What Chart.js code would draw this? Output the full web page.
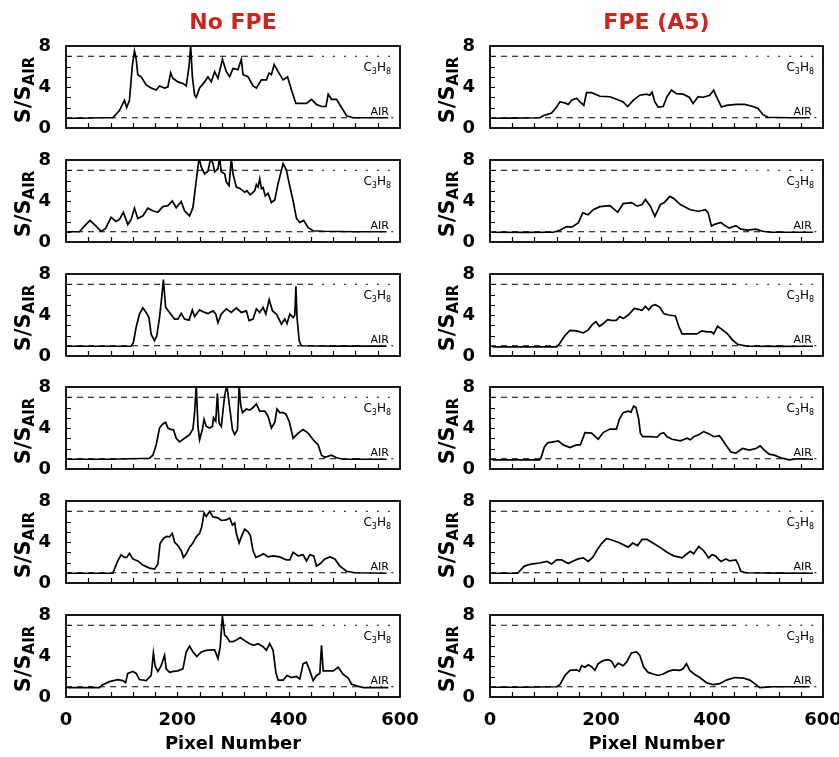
<!DOCTYPE html>
<html><head><meta charset="utf-8">
<script src="https://cdn.jsdelivr.net/npm/chart.js@4.4.1/dist/chart.umd.min.js"></script>
<style>
html,body{margin:0;padding:0;background:#fff;width:839px;height:757px;overflow:hidden;}
canvas{position:absolute;}
</style></head><body>
<script>
// ---- Column titles / labels ----
const columnTitles = ['No FPE', 'FPE (A5)'];
const xAxisTitle = 'Pixel Number';
const xTickLabels = [0, 200, 400, 600];
const yTickLabels = [0, 4, 8];
const C3H8_LEVEL = 7;
const AIR_LEVEL = 1;

// ---- No FPE (left column), rows 1..6 ----
const noFpe1X = [5,30,60,84,96,105,109,114,119,123,126,129,135,144,153,162,168,177,183,188,192,201,210,216,221,224,227,231,234,240,249,255,261,267,273,281,288,294,300,309,315,318,327,336,342,351,360,365,369,374,381,390,398,405,413,423,432,441,450,459,467,471,477,486,495,504,516,540,579];
const noFpe1Y = [0.95,0.95,1.0,1.0,1.7,2.7,2.0,2.7,6.0,7.5,6.8,5.2,5.0,4.2,3.9,3.7,4.1,3.9,4.0,5.4,4.85,4.5,4.35,4.1,6.0,8.0,5.0,3.2,3.0,3.9,4.5,5.0,4.5,5.5,4.85,6.7,5.5,5.0,5.8,5.7,6.7,5.2,5.0,4.1,3.9,4.7,4.7,5.35,5.2,6.2,5.5,4.7,5.0,3.7,2.4,2.4,2.4,2.8,2.3,2.1,2.1,3.3,2.8,2.8,2.0,1.2,1.0,1.0,1.0];

const noFpe2X = [3,24,33,43,54,63,71,81,90,96,103,111,117,123,129,138,147,156,165,174,183,191,198,207,213,222,228,234,239,243,249,255,260,264,267,273,276,279,285,288,293,297,300,306,313,321,325,331,339,342,345,348,351,354,358,363,369,375,381,390,396,401,408,414,420,427,435,444,462,520,576];
const noFpe2Y = [1.0,1.0,1.55,2.1,1.55,1.05,1.3,2.4,2.0,2.2,2.9,1.7,2.2,3.3,2.3,2.55,3.3,3.05,2.9,3.45,3.55,4.0,3.35,3.95,3.05,2.55,3.35,6.0,8.2,7.3,6.65,6.9,8.2,7.65,6.85,7.15,8.2,6.85,6.65,5.85,5.5,8.2,6.65,5.35,5.2,4.85,5.0,4.6,5.0,5.6,5.35,6.15,5.2,5.3,4.5,4.75,3.85,4.1,5.7,7.65,7.0,5.7,4.0,2.3,1.9,2.1,1.4,1.1,1.05,1.0,1.0];

const noFpe3X = [3,60,117,121,126,132,138,144,149,153,159,163,168,172,175,179,186,195,201,207,213,221,227,231,240,249,255,264,269,273,279,288,297,306,315,324,329,336,342,348,354,359,365,371,378,387,393,397,402,408,411,413,415,419,423,480,576];
const noFpe3Y = [0.95,0.95,0.95,1.3,2.8,4.1,4.7,4.25,3.75,2.1,1.5,1.95,3.75,5.75,7.45,4.75,4.25,3.6,3.6,4.15,3.6,3.5,4.5,3.85,4.5,4.25,4.15,4.4,4.1,3.25,4.1,4.6,4.25,4.7,4.25,4.4,3.45,3.6,4.6,4.25,4.75,4.1,5.5,4.4,4.1,3.1,3.6,3.15,4.1,3.75,4.0,6.8,3.75,1.45,1.0,0.97,0.97];

const noFpe4X = [3,80,150,156,162,168,173,179,183,189,193,198,204,213,222,228,231,234,237,240,245,248,252,258,263,265,269,272,275,279,285,289,294,299,303,308,311,314,317,324,330,336,342,348,357,363,369,375,379,384,390,395,401,408,417,426,435,444,453,459,465,477,486,498,576];
const noFpe4Y = [0.95,0.95,1.05,1.35,2.35,4.0,4.35,4.55,4.0,3.85,3.85,3.0,2.65,3.0,3.35,3.9,5.5,8.2,4.15,2.85,3.85,4.85,4.15,4.0,4.15,5.0,4.65,7.35,4.5,4.15,7.15,8.2,6.0,3.85,3.35,3.85,8.2,6.15,5.5,5.85,5.75,6.0,6.35,5.65,5.65,5.15,4.0,4.55,5.85,5.5,5.5,5.35,4.65,3.0,3.5,3.85,3.5,2.85,2.35,1.35,1.15,1.35,1.1,0.95,0.95];

const noFpe5X = [3,45,84,87,93,99,105,109,114,120,129,138,150,159,165,169,175,181,186,191,195,201,207,211,216,222,228,234,240,244,248,252,258,264,273,279,288,294,299,303,306,311,315,321,327,331,336,341,348,355,363,372,384,396,402,408,417,426,432,438,445,450,457,465,474,483,492,504,519,576];
const noFpe5Y = [0.95,0.95,0.95,1.35,2.15,2.75,2.5,2.5,2.9,2.35,2.15,1.75,1.45,1.35,1.85,3.85,4.35,4.55,4.5,4.85,4.0,3.65,3.15,2.5,2.85,3.5,3.9,4.5,4.85,5.5,6.85,6.5,7.0,6.45,6.35,6.1,6.15,6.35,5.65,5.85,4.85,3.9,4.5,5.25,5.0,4.65,3.15,2.5,2.65,2.85,2.55,2.65,2.55,2.25,2.25,3.0,2.65,2.75,2.15,2.75,2.65,1.65,1.9,2.35,2.55,2.35,1.65,1.15,1.0,0.95];

const noFpe6X = [3,35,60,66,78,93,102,107,111,120,126,132,144,153,157,160,165,171,177,180,186,193,201,210,216,222,228,235,243,252,261,267,273,277,281,285,289,294,300,306,313,321,330,337,345,354,360,366,372,377,381,390,397,405,414,420,426,432,438,444,450,456,459,462,471,480,489,498,507,513,522,534,579];
const noFpe6Y = [0.92,0.92,0.92,1.2,1.5,1.7,1.6,1.4,2.3,2.5,2.3,1.7,1.6,2.1,4.3,3.05,2.5,3.05,4.05,2.75,2.4,2.5,2.55,2.75,4.4,4.95,4.4,3.95,4.4,4.55,4.6,4.6,3.75,4.9,7.9,6.05,5.85,5.4,5.4,5.55,5.8,5.5,5.2,5.05,5.2,4.9,4.55,5.2,4.55,2.4,1.65,1.65,2.1,1.9,2.0,1.75,3.25,3.4,2.55,1.6,2.1,2.3,5.05,2.55,2.55,2.55,2.9,2.2,1.85,1.25,1.1,0.92,0.92];

// ---- FPE (A5) (right column), rows 1..6 ----
const fpe1X = [3,40,90,96,111,120,126,135,141,147,156,162,169,174,183,198,216,228,240,248,258,270,282,288,292,297,303,312,319,327,336,348,359,366,375,384,396,403,408,417,426,444,459,474,483,492,501,540,576];
const fpe1Y = [0.95,0.97,1.0,1.2,1.45,2.05,2.55,2.45,2.3,2.7,2.9,2.55,2.2,3.45,3.45,3.1,3.05,2.8,2.55,2.1,2.7,3.2,3.3,3.2,3.5,2.55,2.05,2.1,3.05,3.7,3.35,3.3,3.0,2.4,3.05,3.0,3.2,3.7,3.05,2.05,2.2,2.3,2.3,2.1,1.9,1.3,1.05,1.0,1.0];

const fpe2X = [5,60,114,126,138,147,159,167,177,186,198,216,230,240,255,265,274,280,289,297,307,314,324,331,343,361,376,388,393,399,406,416,422,431,443,452,464,479,491,506,582];
const fpe2Y = [0.95,0.93,0.95,1.15,1.5,1.45,1.85,2.85,2.65,3.15,3.45,3.55,2.9,3.75,3.85,3.5,3.65,4.15,3.5,2.5,3.65,3.85,4.45,4.25,3.65,3.15,3.0,3.15,2.85,1.55,1.75,1.9,1.65,1.35,1.6,1.25,1.15,1.25,1.05,0.95,0.95];

const fpe3X = [5,60,120,124,135,144,156,168,177,185,191,197,204,212,221,228,234,240,249,260,268,274,280,286,292,298,306,313,322,334,340,346,358,373,382,391,399,403,410,419,428,437,446,464,520,582];
const fpe3Y = [0.9,0.9,0.9,1.1,2.0,2.5,2.45,2.25,2.55,3.1,3.35,2.9,3.15,3.55,3.45,3.5,3.85,3.65,4.0,4.65,4.55,4.45,4.85,4.5,4.9,5.0,4.75,4.15,4.0,3.9,2.9,2.15,2.15,2.15,2.45,2.35,2.35,2.15,2.9,2.55,2.15,1.55,1.15,0.95,0.93,0.95];

const fpe4X = [5,50,89,92,98,104,114,123,132,144,156,163,171,183,195,204,216,228,233,240,249,254,259,263,268,271,275,289,301,307,313,319,328,343,355,361,367,376,385,394,403,413,417,425,434,443,455,467,479,487,494,503,512,524,539,554,582];
const fpe4Y = [0.9,0.9,0.9,1.1,2.15,2.55,2.65,2.75,2.35,2.1,2.35,2.35,3.55,3.5,2.9,3.55,3.9,3.9,4.85,5.5,5.65,5.55,6.15,6.0,4.85,3.5,3.15,3.15,3.1,3.45,3.55,3.15,2.9,2.75,3.0,2.85,3.15,3.35,3.65,3.45,3.15,3.25,3.0,2.35,1.65,1.55,2.0,1.85,2.0,2.25,1.85,1.45,1.35,1.1,0.9,1.0,0.95];

const fpe5X = [5,30,50,53,62,74,89,103,111,120,129,141,150,159,168,177,185,192,201,210,222,234,249,257,266,274,283,295,307,319,331,346,355,361,367,376,385,394,400,406,416,425,432,443,447,452,461,520,582];
const fpe5Y = [0.95,0.95,0.95,1.15,1.65,1.85,1.95,2.1,1.85,2.25,2.25,1.9,2.15,2.35,2.45,2.1,2.5,3.15,3.85,4.35,4.15,3.9,3.5,3.9,3.65,4.25,4.25,3.85,3.45,3.0,2.65,2.45,2.85,3.1,2.85,3.55,3.15,2.45,2.75,2.65,2.1,2.35,2.15,2.25,1.85,1.15,1.0,0.97,0.95];

const fpe6X = [3,60,120,126,135,144,156,161,165,171,177,183,189,195,204,213,219,225,231,240,246,255,264,270,277,285,294,303,312,321,330,342,348,354,360,369,378,390,402,414,426,441,456,468,477,486,510,576];
const fpe6Y = [0.95,0.95,1.0,1.2,2.1,2.6,2.65,2.5,3.05,2.9,3.15,2.95,2.6,3.25,3.55,3.65,3.5,2.9,3.3,3.05,3.4,4.3,4.4,4.05,2.9,2.4,2.25,2.1,2.25,2.5,2.65,2.6,2.75,3.25,2.6,2.2,1.9,1.4,1.2,1.3,1.65,1.9,1.85,1.65,1.3,0.92,1.0,1.0];

const leftSeries = [[noFpe1X,noFpe1Y],[noFpe2X,noFpe2Y],[noFpe3X,noFpe3Y],[noFpe4X,noFpe4Y],[noFpe5X,noFpe5Y],[noFpe6X,noFpe6Y]];
const rightSeries = [[fpe1X,fpe1Y],[fpe2X,fpe2Y],[fpe3X,fpe3Y],[fpe4X,fpe4Y],[fpe5X,fpe5Y],[fpe6X,fpe6Y]];

// ---- Layout ----
const FONT = '"DejaVu Sans", "Liberation Sans", Arial, sans-serif';
const PANEL_TOPS = [46, 160, 274, 387, 501, 615];
const PANEL_H = 82;
const COLS = [
  {left: 0,   width: 420, yAxisW: 66, padRight: 20},
  {left: 420, width: 419, yAxisW: 70, padRight: 16}
];

function strokeSeg(ctx, x1, x2, py, dash) {
  ctx.setLineDash(dash);
  ctx.beginPath(); ctx.moveTo(x1, py); ctx.lineTo(x2, py); ctx.stroke();
}

const panelDecor = {
  id: 'panelDecor',
  beforeDatasetsDraw(chart) {
    const {ctx, chartArea: a, scales: {x, y}} = chart;
    ctx.save();
    ctx.strokeStyle = '#000'; ctx.lineWidth = 1.2;
    const pTop = y.getPixelForValue(C3H8_LEVEL), pAir = y.getPixelForValue(AIR_LEVEL);
    strokeSeg(ctx, a.left, x.getPixelForValue(440), pTop, [6,5]);
    strokeSeg(ctx, x.getPixelForValue(440), a.right, pTop, [2,9]);
    strokeSeg(ctx, a.left, x.getPixelForValue(525), pAir, [6,5]);
    strokeSeg(ctx, x.getPixelForValue(525), a.right, pAir, [2,9]);
    ctx.setLineDash([]);
    // C3H8 label
    ctx.fillStyle = '#000';
    ctx.textBaseline = 'alphabetic';
    const big = '12px ' + FONT, small = '8px ' + FONT;
    const parts = [['C', big, 0], ['3', small, 3], ['H', big, 0], ['8', small, 3]];
    let tw = 0;
    parts.forEach(p => { ctx.font = p[1]; tw += ctx.measureText(p[0]).width; });
    let cx = a.right - 9 - tw;
    const base = y.getPixelForValue(6) + 4.5;
    parts.forEach(p => { ctx.font = p[1]; ctx.fillText(p[0], cx, base + p[2]); cx += ctx.measureText(p[0]).width; });
    // AIR label
    ctx.font = '11px ' + FONT;
    ctx.textAlign = 'right';
    ctx.fillText('AIR', a.right - 11, y.getPixelForValue(1.7) + 4);
    ctx.restore();
  },
  afterDraw(chart) {
    const {ctx, chartArea: a, scales: {x, y}} = chart;
    ctx.save();
    ctx.strokeStyle = '#000';
    ctx.lineWidth = 1.2;
    ctx.beginPath();
    for (let v = 1; v < 8; v++) {
      const py = Math.round(y.getPixelForValue(v)) + 0.5;
      ctx.moveTo(a.left, py); ctx.lineTo(a.left + 5, py);
    }
    for (let v = 40; v < 600; v += 40) {
      const px = Math.round(x.getPixelForValue(v)) + 0.5;
      ctx.moveTo(px, a.bottom); ctx.lineTo(px, a.bottom - 5);
    }
    ctx.stroke();
    ctx.lineWidth = 1.8;
    ctx.strokeRect(a.left, a.top, a.right - a.left, a.bottom - a.top);
    // y-axis title S/S_AIR
    ctx.translate(a.left - 36, (a.top + a.bottom) / 2 + 3);
    ctx.rotate(-Math.PI / 2);
    ctx.fillStyle = '#000';
    ctx.textBaseline = 'alphabetic';
    const f1 = 'bold 21px ' + FONT, f2 = 'bold 15px ' + FONT;
    ctx.font = f1; const w1 = ctx.measureText('S/S').width;
    ctx.font = f2; const w2 = ctx.measureText('AIR').width;
    const sx = -(w1 + w2) / 2;
    ctx.font = f1; ctx.fillText('S/S', sx, 0);
    ctx.font = f2; ctx.fillText('AIR', sx + w1, 3.5);
    ctx.restore();
  }
};

function makePanel(col, row, xs, ys) {
  const c = COLS[col];
  const top = PANEL_TOPS[row];
  const isTop = row === 0, isBottom = row === 5;
  const canvasTop = isTop ? 0 : top - 12;
  const padTop = isTop ? 0 : 12;
  const xAxisH = isBottom ? 60 : 0;
  const padBottom = isBottom ? 0 : 12;
  const h = (top - canvasTop) + PANEL_H + xAxisH + padBottom;
  const cv = document.createElement('canvas');
  cv.width = c.width; cv.height = h;
  cv.style.left = c.left + 'px'; cv.style.top = canvasTop + 'px';
  cv.style.width = c.width + 'px'; cv.style.height = h + 'px';
  document.body.appendChild(cv);
  const data = xs.map((xv, i) => ({x: xv, y: ys[i]}));
  new Chart(cv, {
    type: 'line',
    data: {datasets: [{data, borderColor: '#000', borderWidth: 1.7, pointRadius: 0, tension: 0, fill: false}]},
    options: {
      responsive: false, animation: false, devicePixelRatio: 1,
      layout: {padding: {left: 0, right: c.padRight, top: padTop, bottom: padBottom}},
      plugins: {
        legend: {display: false}, tooltip: {enabled: false},
        title: {
          display: isTop, text: columnTitles[col], color: '#c8261e', fullSize: false,
          font: {family: FONT, size: 22, weight: 'bold'}, padding: {top: 10, bottom: 9.6}
        }
      },
      scales: {
        x: {
          type: 'linear', min: 0, max: 600,
          grid: {display: false}, border: {display: false},
          ticks: {
            display: isBottom, stepSize: 200, maxRotation: 0, autoSkip: false,
            color: '#000', padding: 5, font: {family: FONT, size: 18, weight: 'bold'},
            callback: v => xTickLabels.includes(v) ? String(v) : ''
          },
          title: {
            display: isBottom, text: xAxisTitle, color: '#000',
            font: {family: FONT, size: 18, weight: 'bold'}, padding: {top: 0, bottom: 2}
          },
          afterFit: s => { s.height = xAxisH; s.paddingLeft = 0; s.paddingRight = 0; }
        },
        y: {
          min: 0, max: 8,
          grid: {display: false}, border: {display: false},
          ticks: {
            stepSize: 4, autoSkip: false, color: '#000', padding: 7,
            font: {family: FONT, size: 18, weight: 'bold'},
            callback: v => yTickLabels.includes(v) ? String(v) : ''
          },
          afterFit: s => { s.width = c.yAxisW; s.paddingTop = 0; s.paddingBottom = 0; }
        }
      }
    },
    plugins: [panelDecor]
  });
}

leftSeries.forEach((s, i) => makePanel(0, i, s[0], s[1]));
rightSeries.forEach((s, i) => makePanel(1, i, s[0], s[1]));
</script>
</body></html>
